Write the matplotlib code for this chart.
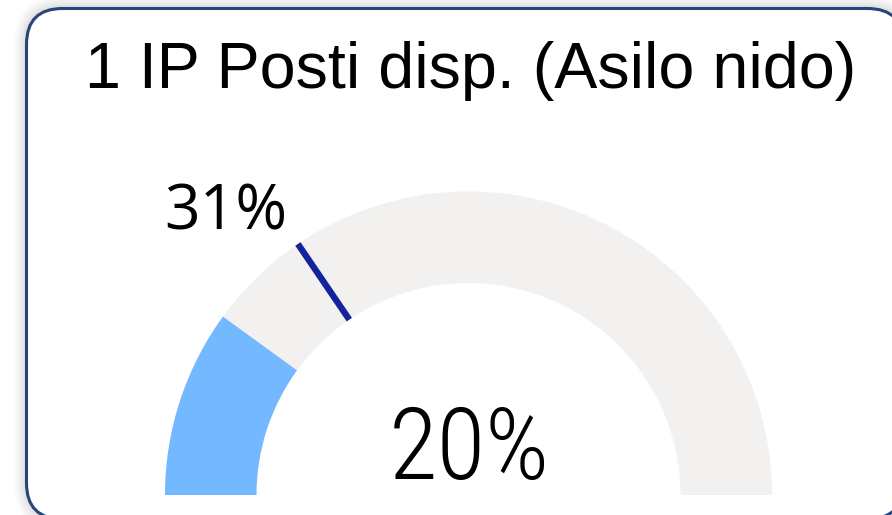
import numpy as np
import matplotlib.pyplot as plt
from matplotlib.patches import Wedge, FancyBboxPatch

title = "1 IP Posti disp. (Asilo nido)"
value = 0.20      # valore attuale
target = 0.31     # obiettivo
gauge_min, gauge_max = 0.0, 1.0

W, H = 892, 515
fig = plt.figure(figsize=(W / 100, H / 100), dpi=100)
ax = fig.add_axes([0, 0, 1, 1])
ax.set_xlim(0, W)
ax.set_ylim(0, H)
ax.axis('off')

# ombra morbida attorno alla card
for i, a in enumerate([0.018, 0.018, 0.02, 0.022, 0.025, 0.03]):
    g = 12 - 2 * i
    ax.add_patch(FancyBboxPatch((26.5 - g, -4 - g), 877 + 2 * g, 510.5 + 2 * g,
                                boxstyle="round,pad=0,rounding_size=%d" % (36 + g),
                                facecolor='black', edgecolor='none', alpha=a))

# card
ax.add_patch(FancyBboxPatch((26.5, -4), 877, 510.5,
                            boxstyle="round,pad=0,rounding_size=36",
                            facecolor='white', edgecolor='#27457a', linewidth=2.2))

# gauge
cx, cy = 468.5, H - 495
r_out, r_in = 303.5, 212


def to_angle(v):
    return 180 - 180 * (v - gauge_min) / (gauge_max - gauge_min)


ax.add_patch(Wedge((cx, cy), r_out, 0, 180, width=r_out - r_in,
                   facecolor='#f2f1f0', edgecolor='none'))
ax.add_patch(Wedge((cx, cy), r_out, to_angle(value), 180, width=r_out - r_in,
                   facecolor='#74b9ff', edgecolor='none'))

t = np.radians(to_angle(target))
ax.plot([cx + r_in * np.cos(t), cx + r_out * np.cos(t)],
        [cy + r_in * np.sin(t), cy + r_out * np.sin(t)],
        color='#13239c', linewidth=4.6, solid_capstyle='butt')

narrow = ['Roboto Condensed', 'Liberation Sans Narrow', 'Liberation Sans']
ax.text(471, H - 88, title, ha='center', va='baseline', fontsize=46.5,
        family=['Liberation Sans', 'DejaVu Sans'], color='black')
ax.text(226, H - 229, f"{target:.0%}", ha='center', va='baseline', fontsize=45,
        family=['Open Sans', 'DejaVu Sans'], color='black')
ax.text(469, H - 479, f"{value:.0%}", ha='center', va='baseline', fontsize=72,
        family=narrow, fontweight='light', color='black')

fig.savefig('out.png', dpi=100, facecolor='white')
